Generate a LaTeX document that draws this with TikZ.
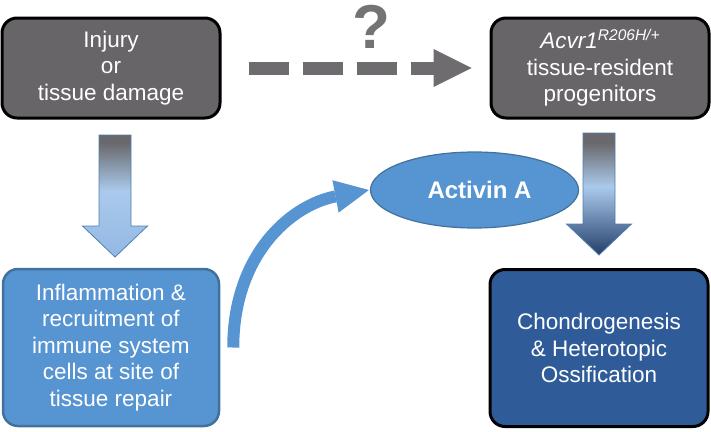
\documentclass[tikz,border=0pt]{standalone}
\usepackage{fontspec}
\setmainfont{Liberation Sans}
\usetikzlibrary{arrows.meta,shapes.geometric}
\definecolor{boxgray}{HTML}{676568}
\definecolor{arrgray}{HTML}{6E6C6E}
\definecolor{qgray}{HTML}{747274}
\definecolor{midblue}{HTML}{5694D2}
\definecolor{midblueline}{HTML}{41719C}
\definecolor{darkblue}{HTML}{2F5C99}
\definecolor{lightblue}{HTML}{AACAEC}
\definecolor{paleblue}{HTML}{92B8E3}
\definecolor{deepblue}{HTML}{233F6A}
\definecolor{gradgray}{HTML}{69686C}
\definecolor{arrline}{HTML}{4F7FB0}
\pgfdeclareverticalshading{leftgrad}{100bp}{color(0bp)=(paleblue); color(25bp)=(paleblue); color(52bp)=(lightblue); color(72bp)=(gradgray); color(100bp)=(gradgray)}
\pgfdeclareverticalshading{rightgrad}{100bp}{color(0bp)=(deepblue); color(25bp)=(deepblue); color(53bp)=(lightblue); color(71bp)=(gradgray); color(100bp)=(gradgray)}
\tikzset{
  txt/.style={text=white, align=center, font=\fontsize{22.5}{26.5}\selectfont},
  graybox/.style={txt, rectangle, rounded corners=15pt, draw=black, line width=3pt, fill=boxgray, minimum width=218pt, minimum height=100pt, inner sep=0pt},
  bluebox/.style={txt, rectangle, rounded corners=15pt, draw=midblueline, line width=2.5pt, fill=midblue, minimum width=216pt, minimum height=157pt, inner sep=0pt},
  navybox/.style={txt, rectangle, rounded corners=15pt, draw=black, line width=3pt, fill=darkblue, minimum width=218pt, minimum height=157pt, inner sep=0pt},
  oval/.style={ellipse, draw=midblueline, line width=1.2pt, fill=midblue, minimum width=208pt, minimum height=76pt, text=white, font=\fontsize{24}{26}\selectfont\bfseries, inner sep=0pt},
  dasharrow/.style={draw=arrgray, line width=13pt, dash pattern=on 40pt off 14pt, -{Triangle[length=38pt,width=38pt,line width=0pt]}, arrgray},
  curvearrow/.style={draw=midblue, line width=12pt, -{Triangle[length=34pt,width=33pt,line width=0pt]}, midblue},
  blockleft/.style={draw=arrline, line width=0.8pt, shading=leftgrad},
  blockright/.style={draw=arrline, line width=0.8pt, shading=rightgrad},
}
\begin{document}
\begin{tikzpicture}[x=1pt,y=-1pt]
\useasboundingbox (0,0) rectangle (711,431);
\node[graybox] (injury) at (111,68) {Injury\\or\\tissue damage};
\node[graybox] (acvr) at (600,68) {{\itshape Acvr1\raisebox{8pt}{\fontsize{15.5}{16}\selectfont R206H/+}}\\tissue-resident\\progenitors};
\node[bluebox] (inflam) at (111,347.5) {Inflammation \&\\recruitment of\\immune system\\cells at site of\\tissue repair};
\node[navybox] (chondro) at (599,348) {Chondrogenesis\\\& Heterotopic\\Ossification};
\node[oval] (act) at (474.5,190) {\hspace{10pt}Activin A};
\node[anchor=base, text=qgray, font=\fontsize{62}{62}\selectfont\bfseries, inner sep=0pt] (q) at (371,48) {?};
% dashed connector
\draw[dasharrow] ([xshift=27pt]injury.east) -- ([xshift=-18pt]acvr.west);
% curved connector
\draw[curvearrow] ([xshift=13pt]inflam.east) .. controls +(0,-93) and +(-78,15) .. ([xshift=-1pt]act.west);
% block arrows
\coordinate (la) at ([xshift=4pt,yshift=-15.5pt]injury.south);
\coordinate (ra) at ([xshift=-1pt,yshift=-13.5pt]acvr.south);
\path[blockleft] (la) ++(-16,0) -- ++(0,91) -- ++(-16.5,0) -- ++(32.5,31) -- ++(32.5,-31) -- ++(-16.5,0) -- ++(0,-91) -- cycle;
\path[blockright] (ra) ++(-16,0) -- ++(0,91) -- ++(-16.5,0) -- ++(32.5,31) -- ++(32.5,-31) -- ++(-16.5,0) -- ++(0,-91) -- cycle;
\end{tikzpicture}
\end{document}
